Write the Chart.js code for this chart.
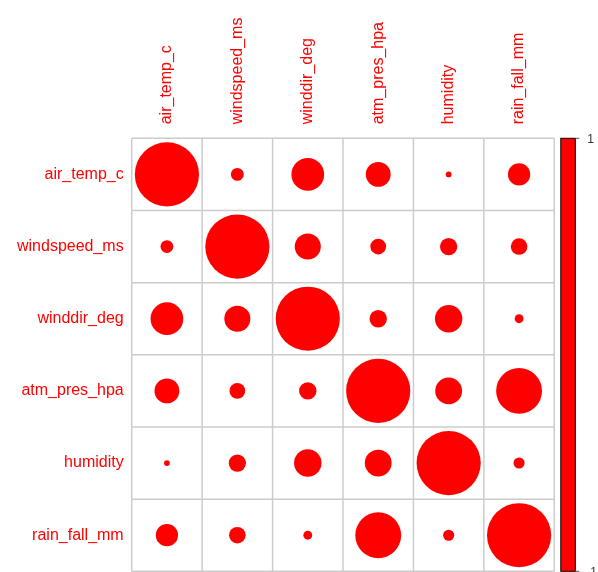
<!DOCTYPE html>
<html>
<head>
<meta charset="utf-8">
<script src="https://cdn.jsdelivr.net/npm/chart.js@4/dist/chart.umd.min.js"></script>
<style>
  html, body { margin: 0; padding: 0; background: #ffffff; }
  #wrap { width: 598px; height: 572px; }
</style>
</head>
<body>
<div id="wrap"><canvas id="corr" width="598" height="572"></canvas></div>
<script>
// Variable names (row and column order of the correlation matrix)
const variables = ['air_temp_c', 'windspeed_ms', 'winddir_deg', 'atm_pres_hpa', 'humidity', 'rain_fall_mm'];

// Correlation magnitudes, one row per variable
const airTempRow   = [1.000, 0.040, 0.260, 0.150, 0.008, 0.120];
const windSpeedRow = [0.040, 1.000, 0.165, 0.060, 0.073, 0.067];
const windDirRow   = [0.260, 0.165, 1.000, 0.074, 0.183, 0.019];
const atmPresRow   = [0.150, 0.060, 0.074, 1.000, 0.175, 0.511];
const humidityRow  = [0.008, 0.073, 0.183, 0.175, 1.000, 0.030];
const rainFallRow  = [0.120, 0.067, 0.019, 0.511, 0.030, 1.000];

// Colour legend tick labels
const legendTicks = [1, -1];

const corrRows = [airTempRow, windSpeedRow, windDirRow, atmPresRow, humidityRow, rainFallRow];

const points = [];
corrRows.forEach((row, i) => {
  row.forEach((v, j) => {
    points.push({ x: j + 1, y: i + 1, v: v });
  });
});

const labelFont = '16px "Liberation Sans", Arial, sans-serif';
const labelColor = '#ff0000';

// circle radius: sqrt(|r|) scaled to 90% of a cell
function circleRadius(ctx) {
  const raw = ctx.raw;
  if (!raw) return 0;
  const xs = ctx.chart.scales.x, ys = ctx.chart.scales.y;
  if (!xs || !ys) return 0;
  const cw = Math.abs(xs.getPixelForValue(1) - xs.getPixelForValue(0));
  const ch = Math.abs(ys.getPixelForValue(1) - ys.getPixelForValue(0));
  const cell = (cw + ch) / 2;
  return 0.45 * Math.sqrt(Math.abs(raw.v)) * cell;
}

// Grid, axis labels and colour legend around the circle matrix
const corrDecor = {
  id: 'corrDecor',
  beforeDatasetsDraw(chart) {
    const { ctx, chartArea: a, scales: { x, y } } = chart;
    const n = variables.length;
    ctx.save();
    ctx.strokeStyle = '#cccccc';
    ctx.lineWidth = 1.5;
    for (let k = 0; k <= n; k++) {
      const px = x.getPixelForValue(k + 0.5);
      const py = y.getPixelForValue(k + 0.5);
      ctx.beginPath();
      ctx.moveTo(px, a.top);
      ctx.lineTo(px, a.bottom);
      ctx.stroke();
      ctx.beginPath();
      ctx.moveTo(a.left, py);
      ctx.lineTo(a.right, py);
      ctx.stroke();
    }
    ctx.restore();
  },
  afterDraw(chart) {
    const { ctx, chartArea: a, scales: { x, y } } = chart;
    ctx.save();
    ctx.font = labelFont;
    ctx.fillStyle = labelColor;

    // row labels
    ctx.textAlign = 'right';
    ctx.textBaseline = 'middle';
    variables.forEach((name, i) => {
      ctx.fillText(name, a.left - 8, y.getPixelForValue(i + 1));
    });

    // column labels, rotated
    variables.forEach((name, j) => {
      ctx.save();
      ctx.translate(x.getPixelForValue(j + 1), a.top - 14);
      ctx.rotate(-Math.PI / 2);
      ctx.textAlign = 'left';
      ctx.textBaseline = 'middle';
      ctx.fillText(name, 0, 0);
      ctx.restore();
    });

    // colour legend bar
    const barL = a.right + 6.5, barW = 14.5;
    ctx.fillStyle = '#ff0000';
    ctx.fillRect(barL, a.top, barW, a.bottom - a.top);
    ctx.strokeStyle = '#000000';
    ctx.lineWidth = 1;
    ctx.strokeRect(barL, a.top, barW, a.bottom - a.top);

    ctx.font = '12px "Liberation Sans", Arial, sans-serif';
    ctx.fillStyle = '#333333';
    ctx.strokeStyle = '#555555';
    ctx.textBaseline = 'middle';
    ctx.textAlign = 'right';
    legendTicks.forEach(t => {
      const ty = a.top + (1 - t) / 2 * (a.bottom - a.top);
      ctx.beginPath();
      ctx.moveTo(barL + barW, ty);
      ctx.lineTo(barL + barW + 4, ty);
      ctx.stroke();
      ctx.fillText(String(t), t > 0 ? 594 : 597, ty + 1);
    });
    ctx.restore();
  }
};

new Chart(document.getElementById('corr'), {
  type: 'scatter',
  data: {
    datasets: [{
      data: points,
      backgroundColor: '#ff0000',
      borderWidth: 0,
      pointRadius: circleRadius,
      pointHoverRadius: circleRadius,
      pointStyle: 'circle'
    }]
  },
  options: {
    responsive: false,
    animation: false,
    devicePixelRatio: 1,
    layout: { padding: { left: 131.7, top: 138.3, right: 43.7, bottom: 0.7 } },
    scales: {
      x: { type: 'linear', min: 0.5, max: 6.5, display: false },
      y: { type: 'linear', min: 0.5, max: 6.5, reverse: true, display: false }
    },
    plugins: {
      legend: { display: false },
      tooltip: { enabled: false }
    },
    events: []
  },
  plugins: [corrDecor]
});
</script>
</body>
</html>
